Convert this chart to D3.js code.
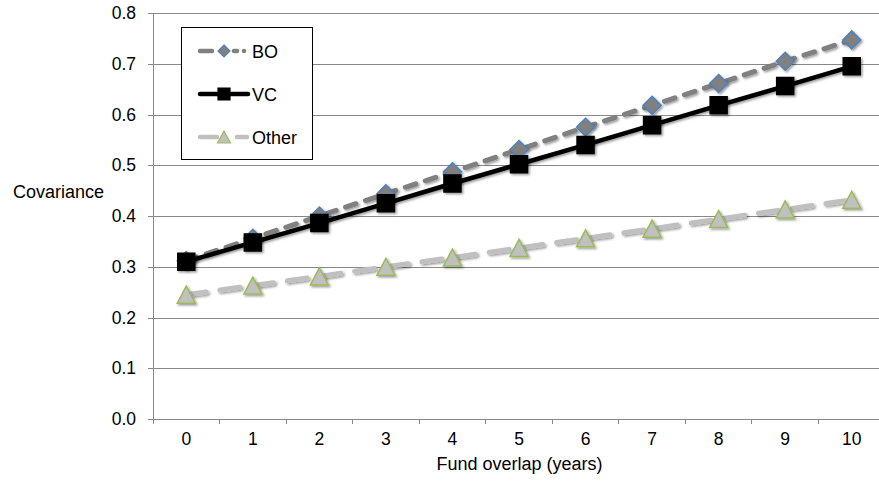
<!DOCTYPE html>
<html><head><meta charset="utf-8">
<script src="https://cdn.jsdelivr.net/npm/d3@7"></script>
<style>body{margin:0;background:#fff}svg{display:block;font-family:"Liberation Sans",Arial,sans-serif}</style>
</head><body><svg id="c" width="879" height="484"></svg>
<script>
const categories = [0,1,2,3,4,5,6,7,8,9,10];
const boValues = [0.312,0.356,0.400,0.444,0.487,0.531,0.575,0.618,0.661,0.705,0.747];
const vcValues = [0.310,0.348,0.386,0.425,0.464,0.502,0.540,0.579,0.618,0.656,0.695];
const otherValues = [0.245,0.263,0.281,0.300,0.318,0.337,0.356,0.375,0.394,0.413,0.432];
const yTicks = [0,0.1,0.2,0.3,0.4,0.5,0.6,0.7,0.8];
const seriesNames = ["BO","VC","Other"];

(function(){
const FONT = "Liberation Sans, Arial, sans-serif";
const svg = d3.select("#c");
const pL = 153, pR = 885, pT = 13, pB = 419;
const x = d3.scaleBand().domain(categories).range([pL, pR]);
const y = d3.scaleLinear().domain([0,0.8]).range([pB, pT]);

const defs = svg.append("defs");
const f = defs.append("filter").attr("id","sh").attr("x","-50%").attr("y","-50%").attr("width","200%").attr("height","200%");
f.append("feDropShadow").attr("dx",1.5).attr("dy",1.5).attr("stdDeviation",1.2).attr("flood-color","#000").attr("flood-opacity",0.4);

// gridlines
svg.append("g").selectAll("line").data(yTicks.slice(1)).join("line")
  .attr("x1",pL).attr("x2",879).attr("y1",d=>Math.round(y(d))+0.5).attr("y2",d=>Math.round(y(d))+0.5)
  .attr("stroke","#888").attr("stroke-width",1);

// y axis
const yAx = svg.append("g").attr("transform",`translate(${pL},0)`)
  .call(d3.axisLeft(y).tickValues(yTicks).tickFormat(d3.format(".1f")).tickSize(5).tickPadding(12));
yAx.select(".domain").attr("stroke","#888").attr("shape-rendering","crispEdges");
yAx.selectAll(".tick line").attr("stroke","#888").attr("shape-rendering","crispEdges");
yAx.selectAll("text").attr("font-size",17.5).attr("fill","#000").attr("font-family",FONT);

// x axis
const xAx = svg.append("g").attr("transform",`translate(0,${pB})`)
  .call(d3.axisBottom(x).tickSize(0).tickPadding(14));
xAx.select(".domain").attr("stroke","#888").attr("shape-rendering","crispEdges");
xAx.selectAll("text").attr("font-size",17.5).attr("fill","#000").attr("font-family",FONT);
svg.append("g").selectAll("line").data(categories).join("line")
  .attr("x1",d=>x(d)).attr("x2",d=>x(d)).attr("y1",pB).attr("y2",pB+5)
  .attr("stroke","#888").attr("shape-rendering","crispEdges");

svg.append("text").attr("x",519.5).attr("y",470).attr("text-anchor","middle").attr("font-size",18).attr("font-family",FONT).text("Fund overlap (years)");
svg.append("text").attr("x",13).attr("y",198).attr("font-size",18).attr("font-family",FONT).text("Covariance");

const cx = d => x(d) + x.bandwidth()/2;
const diamond = r => `M0,${-r}L${r},0L0,${r}L${-r},0Z`;
const square = r => `M${-r},${-r}H${r}V${r}H${-r}Z`;
const tri = (w,h) => `M0,${-h/2}L${w/2},${h/2}L${-w/2},${h/2}Z`;
const styles = [
  {vals: boValues, stroke:"#808080", dash:"11,10", width:5, shape:diamond(9), lshape:diamond(6), fill:"#808080", mstroke:"#4f81bd"},
  {vals: vcValues, stroke:"#000", dash:null, width:4.5, shape:square(8.5), lshape:square(6), fill:"#000", mstroke:"#000"},
  {vals: otherValues, stroke:"#c0c0c0", dash:"20,14", width:5, shape:tri(18,17), lshape:tri(13,12), fill:"#c0c0c0", mstroke:"#9bbb59"}
];
const line = d3.line();

[2,0,1].forEach(i=>{
  const s = styles[i];
  const pts = categories.map((c,j)=>[cx(c), y(s.vals[j])]);
  svg.append("path").attr("d",line(pts)).attr("fill","none").attr("stroke",s.stroke)
    .attr("stroke-width",s.width).attr("stroke-dasharray",s.dash).attr("stroke-linecap","round")
    .attr("filter","url(#sh)");
  svg.append("g").selectAll("path").data(pts).join("path")
    .attr("transform",p=>`translate(${p[0]},${p[1]})`)
    .attr("d",s.shape)
    .attr("fill",s.fill).attr("stroke",s.mstroke).attr("stroke-width",1.5)
    .attr("filter","url(#sh)");
});

// legend
const lg = svg.append("g");
lg.append("rect").attr("x",181.5).attr("y",27.5).attr("width",131).attr("height",132)
  .attr("fill","#fff").attr("stroke","#000").attr("stroke-width",1);
const ly = [51, 94, 137];
styles.forEach((s,i)=>{
  lg.append("line").attr("x1",200).attr("x2",248).attr("y1",ly[i]).attr("y2",ly[i])
    .attr("stroke",s.stroke).attr("stroke-width",4.5).attr("stroke-linecap","round")
    .attr("stroke-dasharray", i===0 ? "12,22,3,7,0,20" : (i===2 ? "17,20,10" : null));
  lg.append("path").attr("transform",`translate(224,${ly[i]})`)
    .attr("d",s.lshape)
    .attr("fill",s.fill).attr("stroke",s.mstroke).attr("stroke-width",1.2);
  lg.append("text").attr("x",252).attr("y",ly[i]+6.5).attr("font-size",18).attr("font-family",FONT).text(seriesNames[i]);
});
})();
</script></body></html>
